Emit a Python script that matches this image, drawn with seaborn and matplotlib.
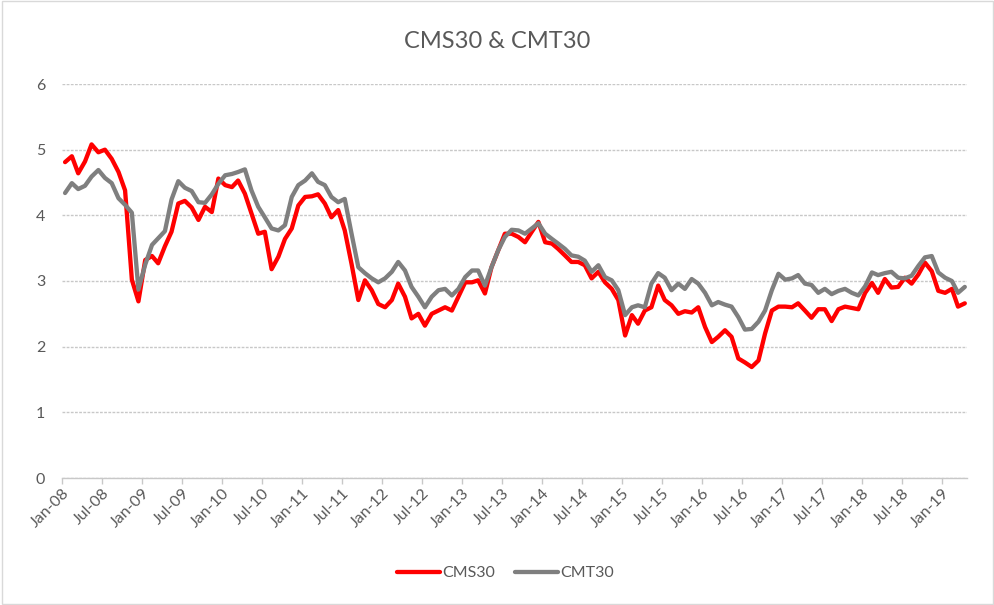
import numpy as np
import pandas as pd
import matplotlib
matplotlib.use("Agg")
import matplotlib.pyplot as plt
import matplotlib.dates as mdates
import seaborn as sns

start_month = "2008-01-01"
cms30 = [4.81, 4.90, 4.64, 4.82, 5.08, 4.96, 5.00, 4.86, 4.66, 4.38,
         3.02, 2.69, 3.32, 3.38, 3.27, 3.53, 3.75, 4.18, 4.22, 4.12,
         3.93, 4.13, 4.05, 4.56, 4.46, 4.43, 4.53, 4.33, 4.03, 3.72,
         3.75, 3.18, 3.37, 3.64, 3.80, 4.15, 4.28, 4.29, 4.32, 4.18,
         3.97, 4.08, 3.77, 3.26, 2.71, 3.01, 2.86, 2.65, 2.60, 2.71,
         2.96, 2.76, 2.43, 2.50, 2.32, 2.50, 2.55, 2.60, 2.55, 2.76,
         2.98, 2.98, 3.01, 2.81, 3.21, 3.47, 3.72, 3.72, 3.67, 3.59,
         3.75, 3.90, 3.59, 3.57, 3.49, 3.39, 3.29, 3.29, 3.24, 3.04,
         3.14, 2.98, 2.88, 2.71, 2.17, 2.48, 2.35, 2.55, 2.60, 2.93,
         2.71, 2.63, 2.50, 2.54, 2.52, 2.60, 2.30, 2.07, 2.15, 2.25,
         2.15, 1.82, 1.76, 1.69, 1.79, 2.20, 2.55, 2.61, 2.61, 2.60,
         2.66, 2.55, 2.44, 2.57, 2.57, 2.39, 2.57, 2.61, 2.59, 2.57,
         2.82, 2.97, 2.82, 3.03, 2.90, 2.91, 3.05, 2.96, 3.10, 3.28,
         3.15, 2.85, 2.82, 2.88, 2.61, 2.66]
cmt30 = [4.34, 4.49, 4.40, 4.45, 4.59, 4.69, 4.57, 4.49, 4.26, 4.16,
         4.04, 2.87, 3.25, 3.55, 3.65, 3.76, 4.24, 4.52, 4.42, 4.37,
         4.20, 4.19, 4.32, 4.48, 4.61, 4.63, 4.66, 4.70, 4.38, 4.13,
         3.97, 3.80, 3.77, 3.85, 4.28, 4.46, 4.53, 4.64, 4.51, 4.46,
         4.28, 4.20, 4.25, 3.72, 3.21, 3.12, 3.04, 2.98, 3.04, 3.14,
         3.29, 3.16, 2.91, 2.76, 2.60, 2.76, 2.86, 2.88, 2.78, 2.88,
         3.06, 3.16, 3.16, 2.93, 3.21, 3.47, 3.67, 3.78, 3.77, 3.72,
         3.80, 3.88, 3.72, 3.64, 3.57, 3.49, 3.39, 3.37, 3.31, 3.14,
         3.24, 3.06, 3.01, 2.86, 2.48, 2.60, 2.63, 2.60, 2.96, 3.12,
         3.05, 2.86, 2.96, 2.88, 3.03, 2.96, 2.82, 2.63, 2.68, 2.64,
         2.61, 2.45, 2.26, 2.27, 2.38, 2.55, 2.86, 3.11, 3.02, 3.04,
         3.09, 2.96, 2.94, 2.82, 2.88, 2.80, 2.85, 2.88, 2.82, 2.78,
         2.92, 3.13, 3.09, 3.12, 3.14, 3.05, 3.04, 3.08, 3.23, 3.36,
         3.38, 3.13, 3.05, 3.00, 2.82, 2.91]
series_names = ["CMS30", "CMT30"]
y_ticks = [0, 1, 2, 3, 4, 5, 6]

dates = pd.date_range(start_month, periods=len(cms30), freq="MS") + pd.Timedelta(days=14)
df = pd.DataFrame({
    "date": np.concatenate([dates, dates]),
    "value": cms30 + cmt30,
    "series": [series_names[0]] * len(cms30) + [series_names[1]] * len(cmt30),
})

sns.set_theme(style="white")
plt.rcParams["font.family"] = ["Lato", "DejaVu Sans"]

fig = plt.figure(figsize=(9.95, 6.05), dpi=100)
ax = fig.add_axes([62 / 995, 1 - 478 / 605, (967 - 62) / 995, (478 - 84) / 605])

palette = {"CMS30": "#FF0000", "CMT30": "#7F7F7F"}
sns.lineplot(data=df, x="date", y="value", hue="series", palette=palette,
             linewidth=3.1, ax=ax, legend=False)

ax.set_ylim(0, 6)
ax.set_yticks(y_ticks)
ax.set_xlim(pd.Timestamp("2008-01-01"), pd.Timestamp("2019-04-25"))
ax.xaxis.set_major_locator(mdates.MonthLocator(bymonth=[1, 7]))
ax.xaxis.set_major_formatter(mdates.DateFormatter("%b-%y"))
ax.set_xlabel("")
ax.set_ylabel("")

ax.grid(axis="y", color="#c8c8c8", linestyle=(0, (2, 1)), linewidth=1.0)
ax.set_axisbelow(True)
for s in ["left", "right", "top"]:
    ax.spines[s].set_visible(False)
ax.spines["bottom"].set_color("#c8c8c8")
ax.spines["bottom"].set_linewidth(1.0)

ax.tick_params(axis="y", length=0, pad=12, labelsize=11.5, labelcolor="#595959")
ax.tick_params(axis="x", length=4, width=1, color="#c8c8c8", direction="out",
               pad=2, labelsize=11.5, labelcolor="#595959", bottom=True)
for lbl in ax.get_xticklabels():
    lbl.set_rotation(45)
    lbl.set_ha("right")
    lbl.set_rotation_mode("anchor")

fig.text(0.5, 1 - 42 / 605, "CMS30 & CMT30", ha="center", va="center",
         fontsize=17, color="#595959")

handles = [plt.Line2D([], [], color=palette[n], linewidth=3.1) for n in series_names]
fig.legend(handles, series_names, loc="center", bbox_to_anchor=(0.508, 1 - 573 / 605),
           ncol=2, frameon=False, fontsize=11.5, handlelength=2.7, handletextpad=0.15,
           columnspacing=1.2, labelcolor="#595959")

border = plt.Rectangle((0.002, 0.002), 0.996, 0.996, transform=fig.transFigure,
                       fill=False, edgecolor="#d9d9d9", linewidth=1.0)
fig.patches.append(border)

fig.savefig("out.png", dpi=100)
